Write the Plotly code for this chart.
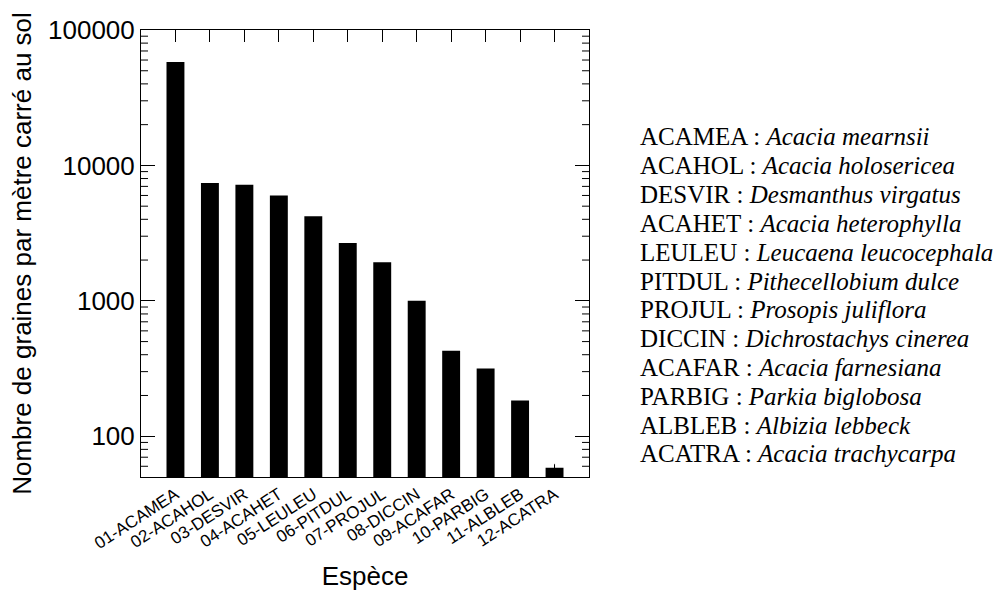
import math
import plotly.graph_objects as go

# Seed density per species (seeds per square metre of soil)
species = ["01-ACAMEA", "02-ACAHOL", "03-DESVIR", "04-ACAHET", "05-LEULEU", "06-PITDUL",
           "07-PROJUL", "08-DICCIN", "09-ACAFAR", "10-PARBIG", "11-ALBLEB", "12-ACATRA"]
seeds_per_m2 = [58000, 7400, 7200, 6000, 4220, 2670, 1930, 1000, 427, 316, 184, 58.5]
seeds_err = [0, 0, 0, 0, 0, 0, 0, 0, 0, 0, 0, 4]

codes = ["ACAMEA", "ACAHOL", "DESVIR", "ACAHET", "LEULEU", "PITDUL",
         "PROJUL", "DICCIN", "ACAFAR", "PARBIG", "ALBLEB", "ACATRA"]
latin_names = ["Acacia mearnsii", "Acacia holosericea", "Desmanthus virgatus",
               "Acacia heterophylla", "Leucaena leucocephala", "Pithecellobium dulce",
               "Prosopis juliflora", "Dichrostachys cinerea", "Acacia farnesiana",
               "Parkia biglobosa", "Albizia lebbeck", "Acacia trachycarpa"]

major_vals = [100, 1000, 10000, 100000]
major_text = ["100", "1000", "10000", "100000"]
minor_vals = [m * 10 ** e for e in range(1, 5) for m in range(2, 10) if m * 10 ** e > 50]

SANS = "Liberation Sans, Arial, Helvetica, sans-serif"
SERIF = "Liberation Serif, Times New Roman, serif"
Y_RANGE = [math.log10(50), 5]

fig = go.Figure(go.Bar(
    x=species, y=seeds_per_m2, width=0.52,
    marker=dict(color="black", line=dict(width=0)),
    error_y=dict(type="data", array=seeds_err, visible=True, color="#333333",
                 thickness=1, width=0),
))

W, H = 996, 592
L, R, T, B = 141, 407, 30, 115
pw, ph = W - L - R, H - T - B

fig.update_layout(
    width=W, height=H,
    margin=dict(l=L, r=R, t=T, b=B, autoexpand=False),
    paper_bgcolor="white", plot_bgcolor="white",
    showlegend=False,
    font=dict(family=SANS, color="black"),
    xaxis=dict(
        type="category", range=[-1, 12], automargin=False,
        showline=True, linecolor="black", linewidth=1, mirror="ticks",
        ticks="inside", ticklen=12, tickcolor="black", tickwidth=1,
        tickangle=-33, tickfont=dict(size=17, family=SANS),
        showgrid=False, zeroline=False,
        title=dict(text="Espèce", font=dict(size=26, family=SANS), standoff=14),
    ),
    yaxis=dict(
        type="log", range=Y_RANGE, automargin=False,
        showline=True, linecolor="black", linewidth=1, mirror="ticks",
        tickmode="array", tickvals=major_vals, ticktext=major_text,
        ticks="inside", ticklen=14, tickcolor="black", tickwidth=1,
        tickfont=dict(size=26, family=SANS),
        showgrid=False, zeroline=False,
        title=dict(text="Nombre de graines par mètre carré au sol",
                   font=dict(size=26, family=SANS), standoff=8),
    ),
)

# Short intermediate log ticks on the left and right frame edges,
# placed at their fractional position along the log axis range
tick_frac = 7 / pw
span = Y_RANGE[1] - Y_RANGE[0]
for v in minor_vals:
    yp = (math.log10(v) - Y_RANGE[0]) / span
    for xa, xb in ((0, tick_frac), (1 - tick_frac, 1)):
        fig.add_shape(type="line", xref="paper", yref="paper",
                      x0=xa, x1=xb, y0=yp, y1=yp,
                      line=dict(color="black", width=1), layer="above")

# Species key on the right
x0 = (638 - L) / pw
for i, (code, name) in enumerate(zip(codes, latin_names)):
    baseline = 145 + i * 28.8
    fig.add_annotation(
        xref="paper", yref="paper", x=x0, y=(H - B - (baseline - 8)) / ph,
        xanchor="left", yanchor="middle", showarrow=False, align="left",
        text=f"{code} : <i>{name}</i>",
        font=dict(family=SERIF, size=25, color="black"),
    )

fig.write_html("out.html")
